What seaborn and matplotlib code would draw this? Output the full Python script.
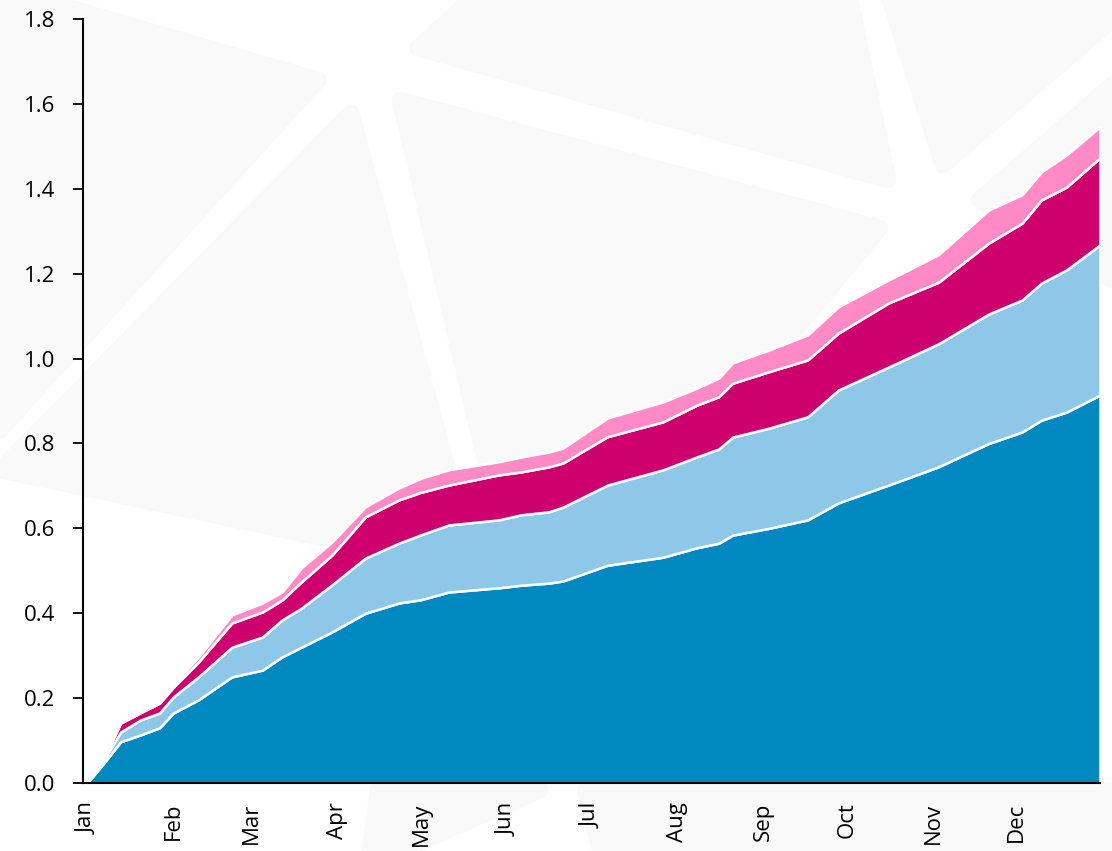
import matplotlib.pyplot as plt
import seaborn as sns
from matplotlib.patches import Polygon

# day of year and the four stacked series
days = [0, 6, 12, 19, 26, 31, 40, 52, 63, 70, 77, 88, 100, 112, 120, 130, 148,
        156, 166, 171, 187, 207, 219, 227, 232, 245, 259, 270, 288, 306, 324,
        336, 343, 352, 364]
series_a = [0.000, 0.047, 0.097, 0.113, 0.130, 0.165, 0.196, 0.250, 0.266, 0.297,
            0.320, 0.356, 0.400, 0.424, 0.432, 0.450, 0.460, 0.466, 0.471, 0.476,
            0.513, 0.532, 0.554, 0.565, 0.584, 0.600, 0.620, 0.660, 0.702, 0.745,
            0.800, 0.827, 0.855, 0.874, 0.914]
series_b = [0.000, 0.008, 0.023, 0.035, 0.035, 0.038, 0.054, 0.070, 0.078, 0.087,
            0.092, 0.111, 0.130, 0.141, 0.153, 0.158, 0.160, 0.166, 0.168, 0.174,
            0.189, 0.206, 0.214, 0.222, 0.231, 0.236, 0.243, 0.266, 0.278, 0.290,
            0.305, 0.311, 0.323, 0.335, 0.354]
series_c = [0.000, 0.003, 0.021, 0.017, 0.023, 0.023, 0.035, 0.057, 0.059, 0.047,
            0.062, 0.070, 0.097, 0.102, 0.100, 0.094, 0.106, 0.101, 0.106, 0.104,
            0.114, 0.113, 0.122, 0.123, 0.127, 0.133, 0.134, 0.134, 0.151, 0.145,
            0.167, 0.181, 0.196, 0.195, 0.205]
series_d = [0.000, 0.000, 0.002, 0.002, 0.002, 0.006, 0.012, 0.019, 0.021, 0.019,
            0.033, 0.031, 0.024, 0.028, 0.033, 0.036, 0.031, 0.035, 0.035, 0.035,
            0.044, 0.047, 0.040, 0.044, 0.048, 0.051, 0.059, 0.062, 0.054, 0.065,
            0.078, 0.067, 0.066, 0.076, 0.073]

month_starts = [0, 31, 59, 90, 120, 151, 181, 212, 243, 273, 304, 334]
month_labels = ["Jan", "Feb", "Mar", "Apr", "May", "Jun",
                "Jul", "Aug", "Sep", "Oct", "Nov", "Dec"]
colors = ["#0088C0", "#8EC7E7", "#CE006E", "#FF8AC6"]

sns.set_theme(style="white")
plt.rcParams["font.family"] = ["Open Sans", "DejaVu Sans"]

W, H = 1112, 851
fig = plt.figure(figsize=(W / 100, H / 100), dpi=100)

# faint decorative background triangles (pixel coords, y down)
shapes = [
    [(0, 0), (60, 5), (318, 80), (0, 430)],
    [(351, 113), (475, 570), (0, 470)],
    [(400, 100), (880, 228), (530, 650)],
    [(470, 0), (850, 0), (888, 180), (418, 48)],
    [(890, 0), (1112, 0), (1112, 20), (943, 165)],
    [(979, 200), (1112, 85), (1112, 280)],
    [(585, 790), (1112, 790), (1112, 851), (600, 851)],
    [(378, 790), (540, 790), (400, 851), (370, 851)],
]
for pts in shapes:
    fig.add_artist(Polygon([(x / W, 1 - y / H) for x, y in pts], closed=True,
                           transform=fig.transFigure, facecolor="#F9F9F9",
                           edgecolor="#F9F9F9", linewidth=12, joinstyle="round",
                           zorder=-1))

ax = fig.add_axes([83 / W, 1 - 783 / H, (1100 - 83) / W, (783 - 19) / H])
ax.patch.set_alpha(0)

ax.stackplot(days, series_a, series_b, series_c, series_d, colors=colors,
             edgecolor="white", linewidth=1.8)

ax.set_xlim(-1.5, 364)
ax.set_ylim(0, 1.8)
ax.set_yticks([0, 0.2, 0.4, 0.6, 0.8, 1.0, 1.2, 1.4, 1.6, 1.8])
ax.set_yticklabels([f"{v:.1f}" for v in ax.get_yticks()])
ax.set_xticks(month_starts)
ax.set_xticklabels(month_labels, rotation=90)

sns.despine(ax=ax)
for side in ["left", "bottom"]:
    ax.spines[side].set_color("black")
    ax.spines[side].set_linewidth(1.5)
    ax.spines[side].set_zorder(5)
ax.tick_params(axis="y", which="both", left=True, length=7, width=1.3,
               color="black", pad=13, labelsize=16, labelcolor="black")
ax.tick_params(axis="x", length=0, pad=14, labelsize=16, labelcolor="black")
ax.grid(False)

fig.savefig("out.png", dpi=100)
